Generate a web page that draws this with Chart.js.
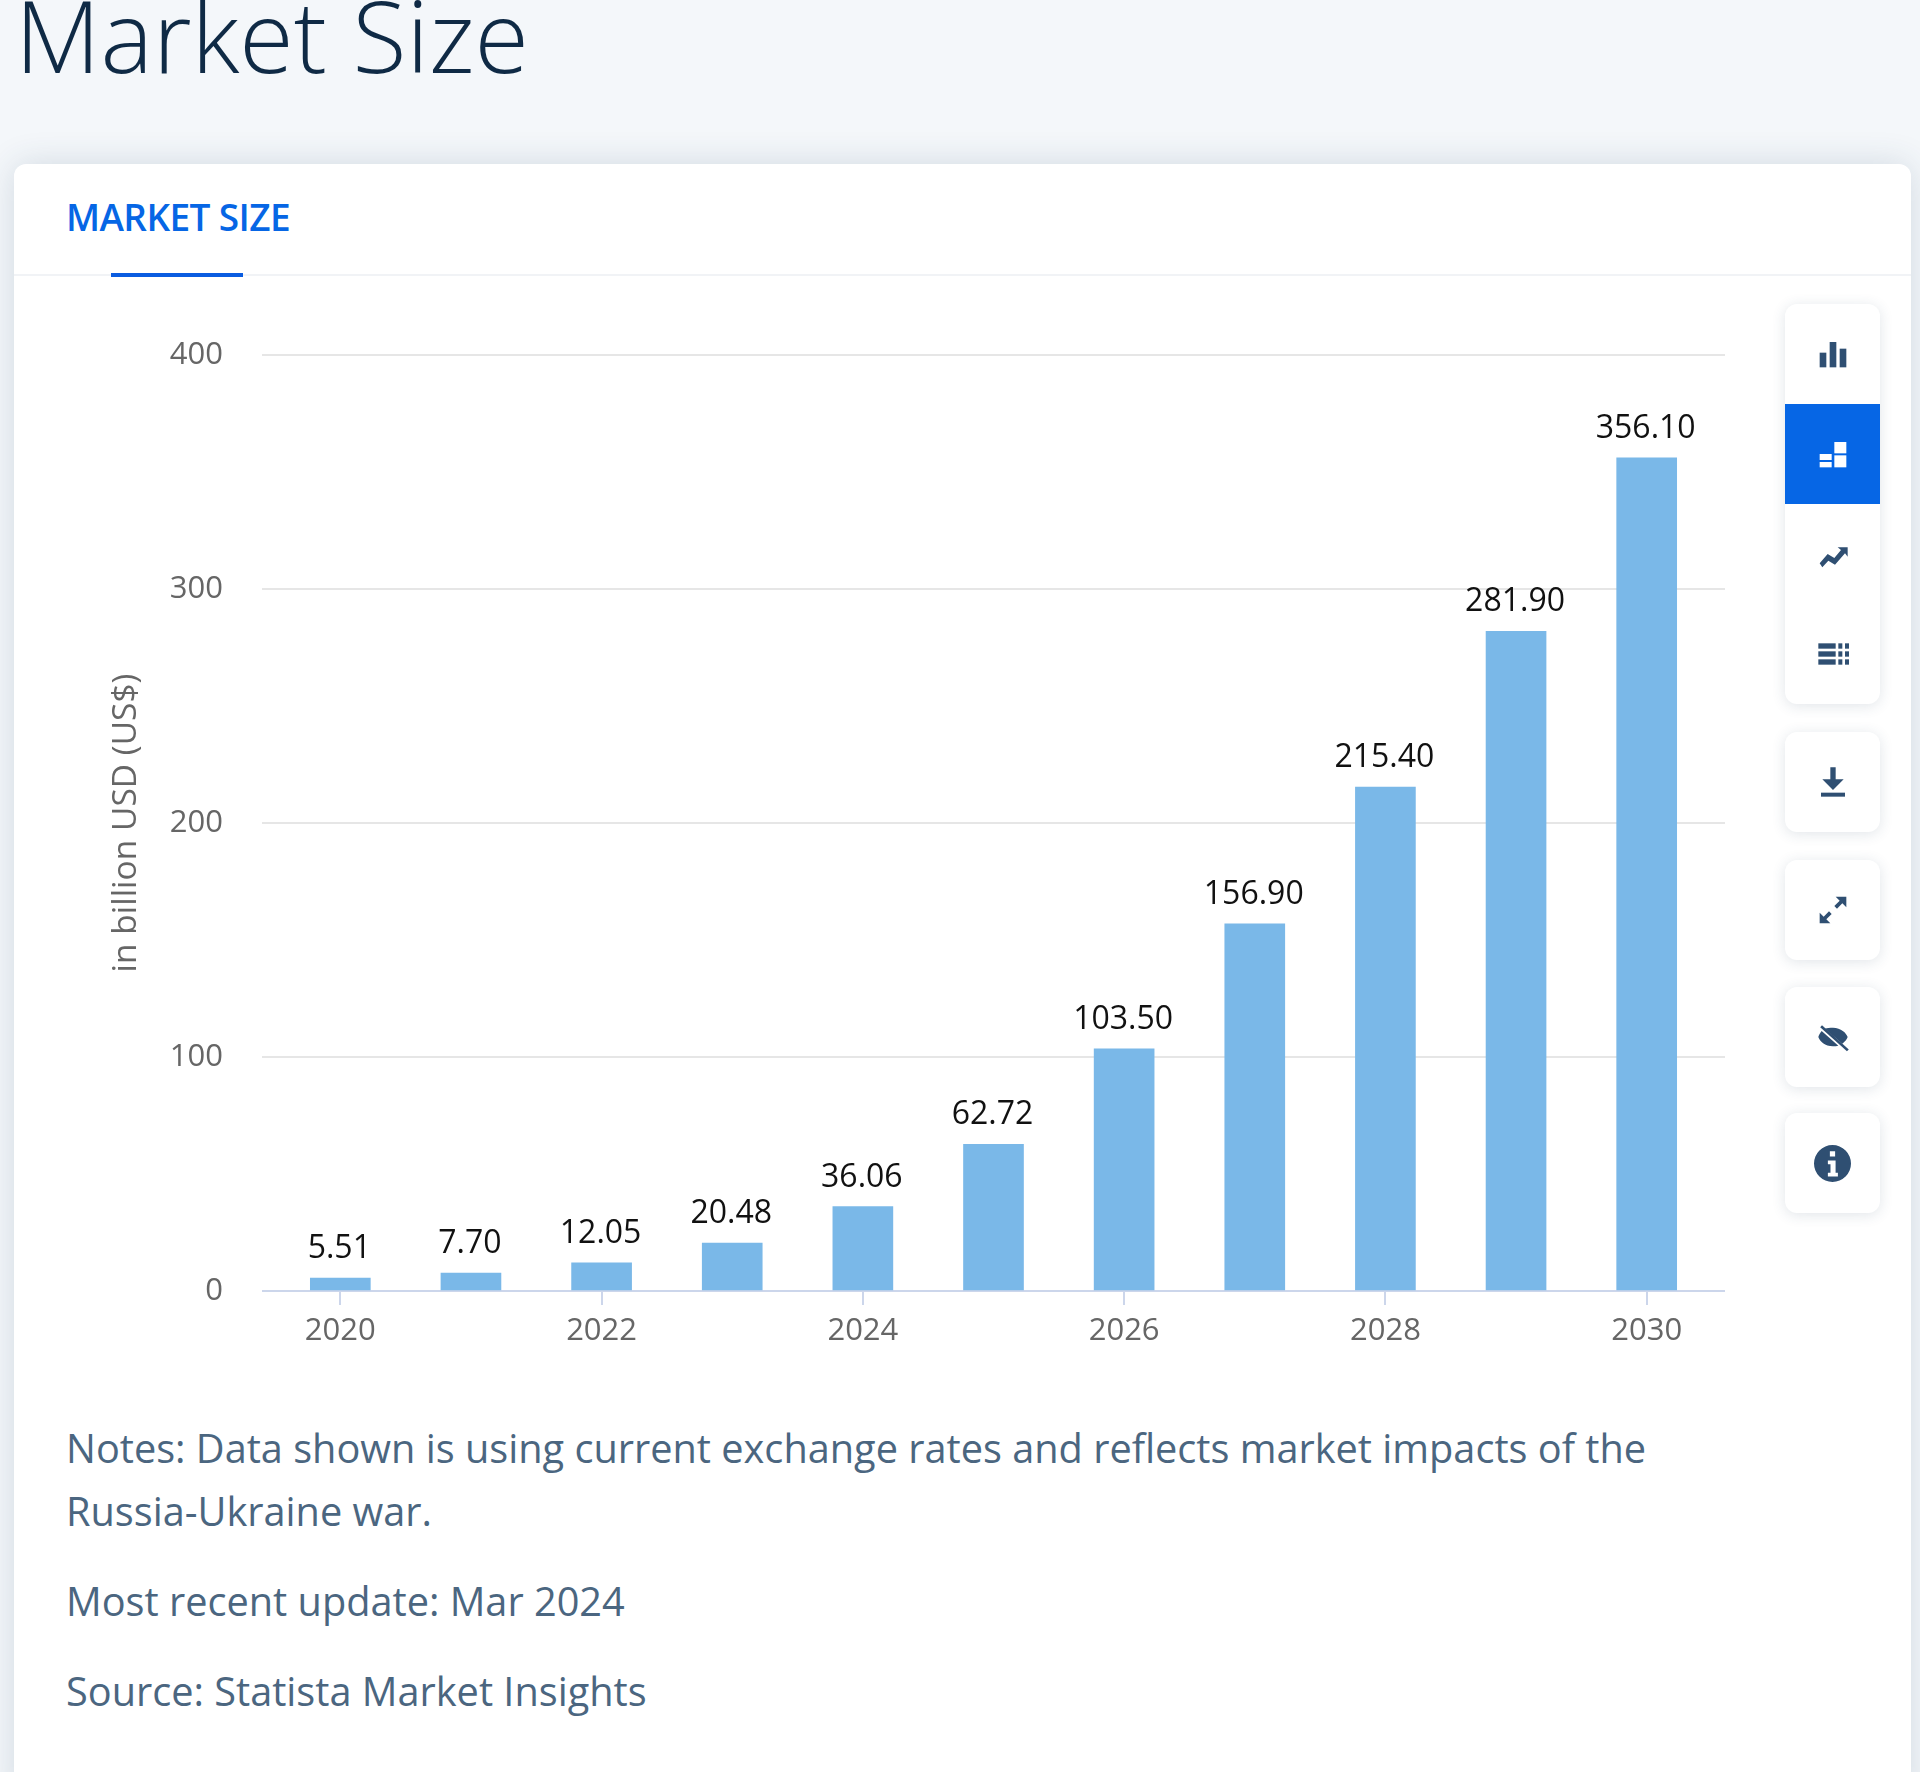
<!DOCTYPE html>
<html>
<head>
<meta charset="utf-8">
<title>Market Size</title>
<script src="https://cdn.jsdelivr.net/npm/chart.js@4"></script>
<style>
  html, body { margin: 0; padding: 0; }
  body { width: 1920px; height: 1772px; overflow: hidden; position: relative; background: #f4f7fa; font-family: "Open Sans", sans-serif; }
  h1 { position: absolute; left: 15px; top: -25px; margin: 0; font-size: 99px; font-weight: 300; line-height: 120px; color: #0f2a45; }
  .card { position: absolute; left: 14px; top: 164px; width: 1897px; height: 1640px; background: #fff; border-radius: 12px; box-shadow: 0 0 34px rgba(40, 70, 100, .16); }
  .tab { position: absolute; left: 66px; top: 194px; font-size: 37px; font-weight: 600; line-height: 46px; color: #0666e5; letter-spacing: -.6px; }
  .tabline { position: absolute; left: 14px; top: 274px; width: 1897px; height: 2px; background: #f1f3f6; }
  .tabactive { position: absolute; left: 111px; top: 273px; width: 132px; height: 4px; background: #0a5ce0; }
  #wrap { position: absolute; left: 40px; top: 300px; width: 1720px; height: 1100px; }
  .notes { position: absolute; left: 66px; color: #4b6680; font-size: 39.700px; line-height: 63px; white-space: nowrap; }
  .tools { position: absolute; left: 1785px; width: 95px; background: #fff; border-radius: 12px; box-shadow: 0 2px 14px rgba(40, 70, 100, .14); overflow: hidden; }
  .tool { height: 100px; display: flex; align-items: center; justify-content: center; color: #2f4f72; }
  .tool.on { background: #0666e5; color: #fff; }
  .tool svg { width: 32px; height: 32px; fill: currentColor; }
</style>
</head>
<body>
<h1>Market Size</h1>
<div class="card"></div>
<div class="tab">MARKET SIZE</div>
<div class="tabline"></div>
<div class="tabactive"></div>
<div id="wrap"><canvas id="marketChart" width="1720" height="1100"></canvas></div>

<div class="notes" style="top:1417px">Notes: Data shown is using current exchange rates and reflects market impacts of the<br>Russia-Ukraine war.</div>
<div class="notes" style="top:1570px">Most recent update: Mar 2024</div>
<div class="notes" style="top:1660px">Source: Statista Market Insights</div>

<div class="tools" style="top:304px">
  <div class="tool"><svg viewBox="0 0 24 24"><rect x="2" y="11" width="5" height="11"/><rect x="9.500" y="3" width="5" height="19"/><rect x="17" y="8" width="5" height="14"/></svg></div>
  <div class="tool on"><svg viewBox="0 0 24 24"><rect x="2" y="12" width="9" height="4.500"/><rect x="2" y="18" width="9" height="4"/><rect x="13" y="3" width="9" height="8.500"/><rect x="13" y="13" width="9" height="9"/></svg></div>
  <div class="tool"><svg viewBox="0 0 24 24"><path d="M2 19l6-7 5 3 5-6-2.500-2H23v7l-2-2.500-7.500 8.500-5-3-4.500 5z"/></svg></div>
  <div class="tool"><svg viewBox="0 0 24 24"><rect x="1" y="4" width="13" height="4"/><rect x="1" y="10" width="13" height="4"/><rect x="1" y="16" width="13" height="4"/><rect x="16" y="4" width="3" height="4"/><rect x="21" y="4" width="3" height="4"/><rect x="16" y="10" width="3" height="4"/><rect x="21" y="10" width="3" height="4"/><rect x="16" y="16" width="3" height="4"/><rect x="21" y="16" width="3" height="4"/></svg></div>
</div>
<div class="tools" style="top:732px"><div class="tool"><svg viewBox="0 0 24 24"><path d="M10 1h4v9h6l-8 8-8-8h6z"/><rect x="3" y="20" width="18" height="3"/></svg></div></div>
<div class="tools" style="top:860px"><div class="tool"><svg viewBox="0 0 24 24"><path d="M14 2h8v8l-3-3-4 4-2-2 4-4zM10 22H2v-8l3 3 4-4 2 2-4 4z"/></svg></div></div>
<div class="tools" style="top:987px"><div class="tool"><svg viewBox="0 0 24 24"><path d="M12 5c6 0 10 4 11 7-.6 1.600-2 3.500-4 5L6 5.800C7.500 5.300 9.600 5 12 5zM3.500 7.500l12.500 11c-1.300.4-2.600.5-4 .5-6 0-10-4-11-7 .4-1.500 1.300-3.100 2.500-4.500z"/><rect x="11" y="0" width="2" height="27" transform="rotate(-48 12 12)"/></svg></div></div>
<div class="tools" style="top:1113px"><div class="tool"><svg viewBox="0 0 24 24" style="width:37px;height:37px"><path fill-rule="evenodd" d="M12 0a12 12 0 1 0 0 24 12 12 0 0 0 0-24zM10.300 4h3.400v3.400h-3.400zM9 10h5v8h1.500v2.500h-6.500V18h1.700v-5.500H9z"/></svg></div></div>

<script>
const years = ['2020', '2021', '2022', '2023', '2024', '2025', '2026', '2027', '2028', '2029', '2030'];
const marketSize = [5.51, 7.70, 12.05, 20.48, 36.06, 62.72, 103.50, 156.90, 215.40, 281.90, 356.10];
const yTicks = [0, 100, 200, 300, 400];

// value labels on top of the bars
const barLabels = {
  id: 'barLabels',
  afterDatasetsDraw(chart) {
    const ctx = chart.ctx;
    ctx.save();
    ctx.font = '400 32px "Open Sans"';
    ctx.fillStyle = '#111';
    ctx.textAlign = 'center';
    ctx.textBaseline = 'bottom';
    chart.getDatasetMeta(0).data.forEach((bar, i) => {
      ctx.fillText(marketSize[i].toFixed(2), bar.x - 1, bar.y - 13);
    });
    ctx.restore();
  }
};

// the axis lines run a little past the first and last category
const axisOverhang = {
  id: 'axisOverhang',
  beforeDatasetsDraw(chart) {
    const ctx = chart.ctx;
    const area = chart.chartArea;
    const y = chart.scales.y;
    ctx.save();
    yTicks.forEach(t => {
      const py = y.getPixelForValue(t);
      ctx.strokeStyle = t === 0 ? '#ccd6eb' : '#e6e6e6';
      ctx.lineWidth = 2;
      ctx.beginPath();
      ctx.moveTo(area.left - 13, py);
      ctx.lineTo(area.right + 13, py);
      ctx.stroke();
    });
    ctx.restore();
  }
};

new Chart(document.getElementById('marketChart').getContext('2d'), {
  type: 'bar',
  data: {
    labels: years,
    datasets: [{
      data: marketSize,
      backgroundColor: '#7ab8e8',
      barThickness: 60
    }]
  },
  options: {
    responsive: false,
    animation: false,
    layout: { padding: { top: 55, right: 48, left: 0, bottom: 0 } },
    plugins: { legend: { display: false }, tooltip: { enabled: false } },
    scales: {
      x: {
        afterFit: s => { s.height = 109; },
        border: { color: '#ccd6eb', width: 2 },
        grid: { offset: false, drawOnChartArea: false, drawTicks: true, tickLength: 14, color: '#ccd6eb', lineWidth: 2 },
        ticks: { maxRotation: 0, autoSkip: true, maxTicksLimit: 6, color: '#666', padding: 8, font: { family: '"Open Sans"', size: 31 } }
      },
      y: {
        min: 0,
        max: 400,
        // tick padding would otherwise push the chart area down
        afterFit: s => { s.width = 235; s.paddingTop = 0; s.paddingBottom = 0; },
        border: { display: false },
        grid: { color: '#e6e6e6', lineWidth: 2, drawTicks: false },
        ticks: { stepSize: 100, color: '#666', padding: 52, font: { family: '"Open Sans"', size: 31 } },
        title: { display: true, text: 'in billion USD (US$)', color: '#666', padding: { top: 66, bottom: 0 }, font: { family: '"Open Sans"', size: 33.500 } }
      }
    }
  },
  plugins: [axisOverhang, barLabels]
});
</script>
</body>
</html>
